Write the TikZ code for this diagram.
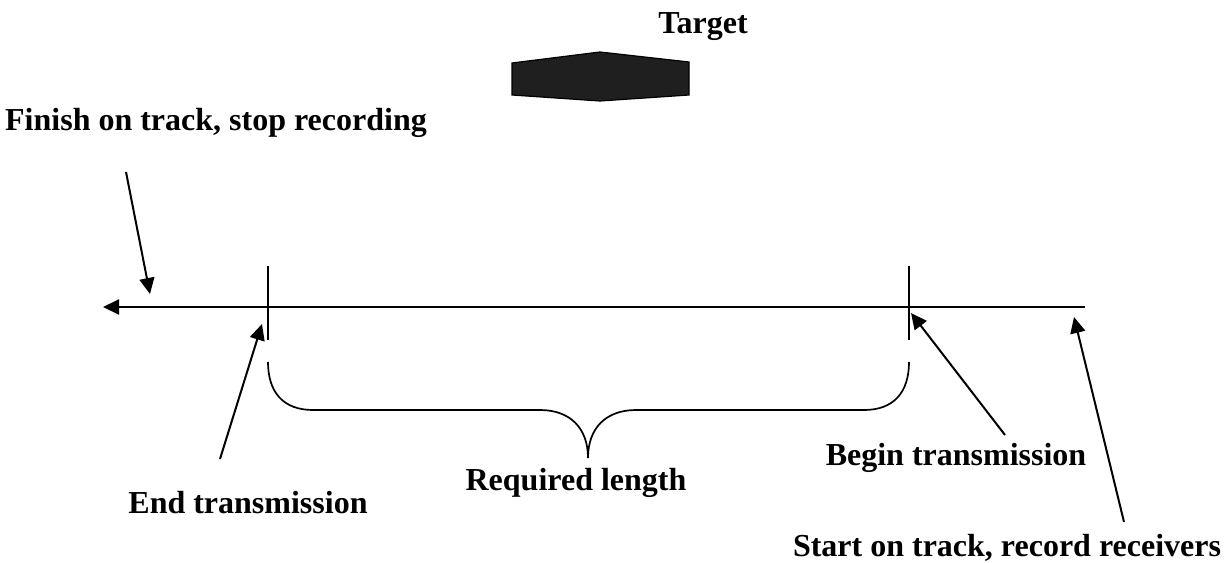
\documentclass[tikz,border=0pt]{standalone}
\usepackage{fontspec}
\setmainfont{Liberation Serif}
\usetikzlibrary{arrows.meta}
\tikzset{
    track/.style={line cap=butt, line join=miter,
                  font=\fontsize{16}{19}\selectfont\bfseries},
    note/.style={anchor=base, inner sep=0pt},
    pointer/.style={-{Triangle[length=8pt, width=7.5pt]}, line width=1pt},
    marker/.style={line width=1pt},
    bracket/.style={line width=0.85pt},
    target/.style={draw=black, fill=black!88, line width=0.6pt},
}

\begin{document}
\begin{tikzpicture}[track, x=0.5pt, y=-0.5pt]
\useasboundingbox (0,0) rectangle (1225,562);

% ─── Cible ──────────────────────────────────────────────────────────────
\node[note] (target) at (703,33) {Target};
\draw[target] (512,63) -- (600,52) -- (689,62) -- (689,95)
              -- (600,101) -- (512,95) -- cycle;

% ─── Trajectoire ────────────────────────────────────────────────────────
\coordinate (trackStart) at (1085,307);
\coordinate (trackEnd)   at (103,307);
\coordinate (beginTx)    at (909,307);
\coordinate (endTx)      at (268,307);
\draw[pointer] (trackStart) -- (trackEnd);
\draw[marker] (endTx)   ++(0,-41) -- ++(0,74);
\draw[marker] (beginTx) ++(0,-41) -- ++(0,74);

% accolade sous la zone d'emission
\draw[bracket] (268,362) .. controls (268,392) and (283,410) .. (313,410)
    -- (540,410) .. controls (570,410) and (588,428) .. (588,458)
    .. controls (588,428) and (606,410) .. (636,410)
    -- (864,410) .. controls (894,410) and (909,392) .. (909,362);

% ─── Textes ─────────────────────────────────────────────────────────────
\node[note] (finish)   at (216,130) {Finish on track, stop recording};
\node[note] (endtext)  at (248,513) {End transmission};
\node[note] (required) at (576,490) {Required length};
\node[note] (begintext) at (956,465) {Begin transmission};
\node[note] (start)    at (1007,556) {Start on track, record receivers};

% ─── Flèches ────────────────────────────────────────────────────────────
\coordinate (finishTail) at (126,172);  \coordinate (finishTip) at (150,294);
\coordinate (endTail)    at (220,459);  \coordinate (endTip)    at (262,324);
\coordinate (beginTail)  at (1005,435); \coordinate (beginTip)  at (911,313);
\coordinate (startTail)  at (1124,522); \coordinate (startTip)  at (1074,317);
\draw[pointer] (finishTail) -- (finishTip);
\draw[pointer] (endTail)    -- (endTip);
\draw[pointer] (beginTail)  -- (beginTip);
\draw[pointer] (startTail)  -- (startTip);

\end{tikzpicture}
\end{document}
